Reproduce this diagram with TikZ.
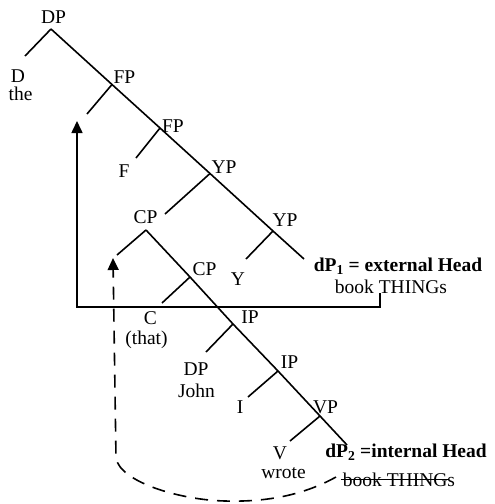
\documentclass[tikz,border=0pt]{standalone}
\usepackage{fontspec}
\setmainfont{Liberation Serif}
\usetikzlibrary{arrows.meta}

\begin{document}
\begin{tikzpicture}[x=1pt, y=-1pt,
  edge/.style={line width=1.6pt},
  lbl/.style={anchor=base, inner sep=0pt, font=\fontsize{19.5}{22}\selectfont},
  headlbl/.style={lbl, font=\fontsize{19.5}{22}\selectfont\bfseries},
  tip/.style={-{Triangle[width=11pt,length=12pt]}},
  movepath/.style={edge, dash pattern=on 13pt off 9pt}]
\useasboundingbox (0,0) rectangle (495,504);

% ---------- outer DP spine ----------
\coordinate (dp)  at (51,29);
\coordinate (fp1) at (112,84.5);
\coordinate (fp2) at (160,128);
\coordinate (yp1) at (210,173.5);
\coordinate (yp2) at (273,231);
\coordinate (dp1) at (304,259);
% left daughters
\coordinate (dl)  at (25,56);
\coordinate (fl1) at (87,114);
\coordinate (fl2) at (136,158);
\coordinate (yl1) at (165,214);
\coordinate (yl2) at (246,259);

\draw[edge] (dp) -- (fp1) -- (fp2) -- (yp1) -- (yp2) -- (dp1);
\draw[edge] (dp) -- (dl);
\draw[edge] (fp1) -- (fl1);
\draw[edge] (fp2) -- (fl2);
\draw[edge] (yp1) -- (yl1);
\draw[edge] (yp2) -- (yl2);

\node[lbl] (tDP)  at (53.5,23) {DP};
\node[lbl] (tD)   at (18,82) {D};
\node[lbl] (tthe) at (20.5,100) {the};
\node[lbl] (tFP1) at (124.5,83) {FP};
\node[lbl] (tFP2) at (173,132) {FP};
\node[lbl] (tF)   at (124,177) {F};
\node[lbl] (tYP1) at (224,173) {YP};
\node[lbl] (tYP2) at (285,226) {YP};
\node[lbl] (tY)   at (238,285) {Y};
\node[headlbl] (ext) at (398,271) {dP\textsubscript{1} = external Head};
\node[lbl] (bk1)  at (391,293) {book THINGs};

% ---------- relative clause CP spine ----------
\coordinate (cp1) at (146,230);
\coordinate (cp2) at (190,277);
\coordinate (ip1) at (233,324);
\coordinate (ip2) at (278,371);
\coordinate (vp)  at (320,416);
\coordinate (dp2) at (347,445);
% left daughters
\coordinate (cl1) at (117,255);
\coordinate (cl2) at (162,303);
\coordinate (il1) at (206,352);
\coordinate (il2) at (248,397);
\coordinate (vl)  at (290,441);

\draw[edge] (cp1) -- (cp2) -- (ip1) -- (ip2) -- (vp) -- (dp2);
\draw[edge] (cp1) -- (cl1);
\draw[edge] (cp2) -- (cl2);
\draw[edge] (ip1) -- (il1);
\draw[edge] (ip2) -- (il2);
\draw[edge] (vp) -- (vl);

\node[lbl] (tCP1) at (145.5,223) {CP};
\node[lbl] (tCP2) at (204.5,275) {CP};
\node[lbl] (tC)   at (150.5,324) {C};
\node[lbl] (tthat) at (146.5,344) {(that)};
\node[lbl] (tIP1) at (250,323) {IP};
\node[lbl] (tDP2) at (196,375) {DP};
\node[lbl] (tjohn) at (196.5,397) {John};
\node[lbl] (tIP2) at (289.5,368) {IP};
\node[lbl] (tI)   at (240,413) {I};
\node[lbl] (tVP)  at (325.5,413) {VP};
\node[lbl] (tV)   at (280,459) {V};
\node[lbl] (twrote) at (283.5,478) {wrote};
\node[headlbl] (int) at (406,457) {dP\textsubscript{2} =internal Head};
\node[lbl] (bk2)  at (399,486) {book THINGs};
\draw[line width=1.2pt] ([xshift=-2pt,yshift=6.5pt]bk2.base west) -- ([xshift=-6pt,yshift=6.5pt]bk2.base east);

% ---------- solid bracket arrow from the external head ----------
\coordinate (ha) at (380,293);
\coordinate (hb) at (380,307);
\coordinate (hc) at (77,307);
\coordinate (hd) at (77,121);
\draw[edge, tip] (ha) -- (hb) -- (hc) -- (hd);

% ---------- dashed movement arrow from the internal head ----------
\coordinate (ma) at (336,477);
\coordinate (mb) at (225,501);
\coordinate (mc) at (116,458);
\coordinate (md) at (113,258);
\draw[movepath, tip] (ma) .. controls (300,497) and (262,502) .. (mb)
  .. controls (180,500) and (120,482) .. (mc) -- (md);
\end{tikzpicture}
\end{document}
